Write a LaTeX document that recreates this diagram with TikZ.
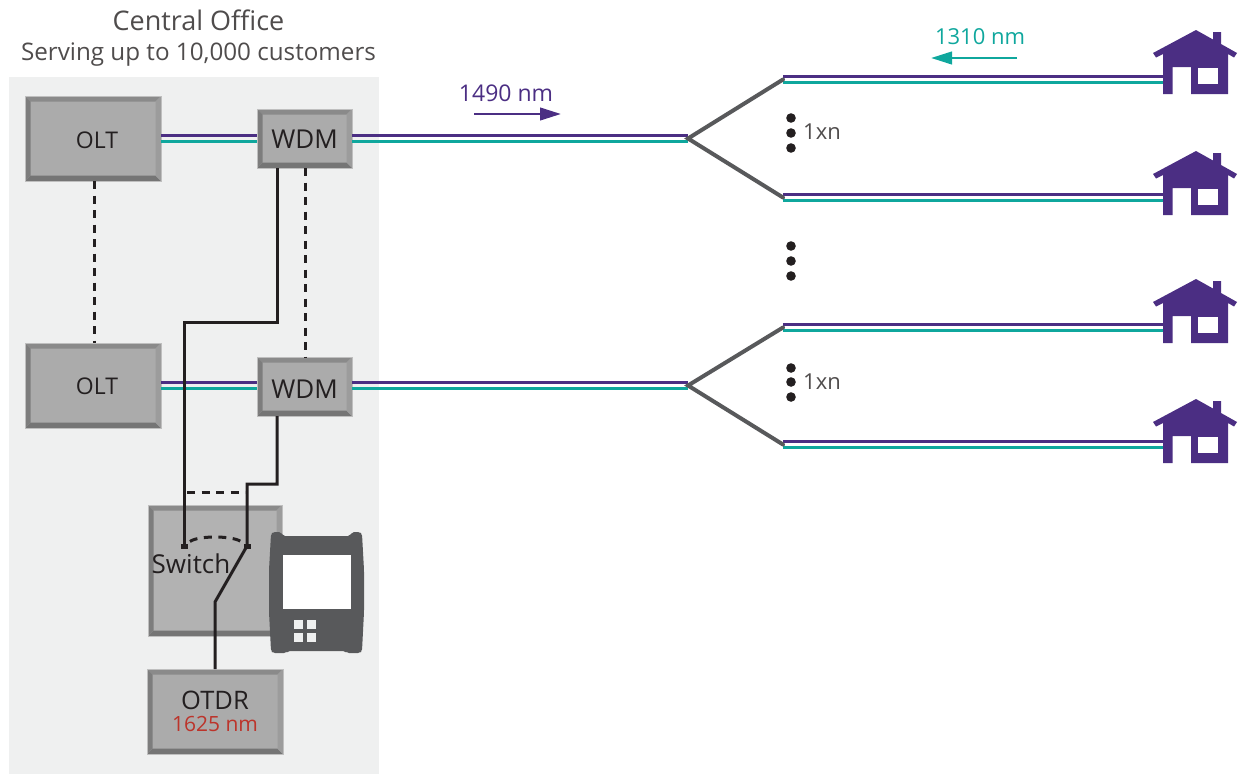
\documentclass[tikz,border=0pt]{standalone}
\usepackage{fontspec}
\usetikzlibrary{arrows.meta}
\setmainfont{Open Sans}
\definecolor{officebg}{HTML}{EFF0F0}
\definecolor{fiberpurple}{HTML}{4B2E83}
\definecolor{fiberteal}{HTML}{0FA79D}
\definecolor{splitgray}{HTML}{58595B}
\definecolor{textdark}{HTML}{231F20}
\definecolor{nmred}{HTML}{BC342B}
\tikzset{
  bevelbox/.style={fill=#1,draw=black!25,line width=.3pt,outer sep=0pt,inner sep=0pt,text=textdark,font=\fontsize{23}{26}\selectfont,align=center,
    path picture={
      \coordinate (nw) at (path picture bounding box.north west);
      \coordinate (ne) at (path picture bounding box.north east);
      \coordinate (sw) at (path picture bounding box.south west);
      \coordinate (se) at (path picture bounding box.south east);
      \fill[black!46] (nw)--(ne)--([shift={(-5.5pt,-5.5pt)}]ne)--([shift={(5.5pt,-5.5pt)}]nw)--cycle;
      \fill[black!54] (sw)--(se)--([shift={(-5.5pt,5.5pt)}]se)--([shift={(5.5pt,5.5pt)}]sw)--cycle;
      \fill[black!51] (nw)--(sw)--([shift={(5.5pt,5.5pt)}]sw)--([shift={(5.5pt,-5.5pt)}]nw)--cycle;
      \fill[black!39] (ne)--(se)--([shift={(-5.5pt,5.5pt)}]se)--([shift={(-5.5pt,-5.5pt)}]ne)--cycle;
    }},
  oltbox/.style={bevelbox=black!33,minimum width=136pt,minimum height=85pt,text depth=0pt},
  wdmbox/.style={bevelbox=black!33,minimum width=95pt,minimum height=59pt,text depth=0pt,font=\fontsize{26}{28}\selectfont},
  purplefiber/.style={fiberpurple,line width=3pt},
  tealfiber/.style={fiberteal,line width=3pt},
  splitline/.style={splitgray,line width=4pt,line cap=round},
  blackline/.style={textdark,line width=3pt},
  dashline/.style={textdark,line width=3pt,dash pattern=on 8pt off 6.5pt},
  smalllabel/.style={font=\fontsize{23}{25}\selectfont},
  pics/house/.style={code={
    \fill[fiberpurple] (1196,30)--(1213,39.5)--(1213,32)--(1221,32)--(1221,44)--(1237,53)--(1234,57.5)--(1228,54)--(1228,94)
      --(1191,94)--(1191,67)--(1172.5,67)--(1172.5,94)--(1163,94)--(1163,54)--(1156,57.5)--(1153,53)--cycle;
    \fill[white] (1198,67.5) rectangle (1218,84);
  }}
}
\begin{document}
\begin{tikzpicture}[x=1pt,y=-1pt]
\useasboundingbox (0,0) rectangle (1239,774);
\fill[officebg] (9,77) rectangle (379,774);
\node[text=textdark!80,font=\fontsize{27}{31}\selectfont,align=center] (title) at (198.5,38) {Central Office\\[-1pt]\fontsize{24.2}{31}\selectfont Serving up to 10,000 customers};

% boxes
\node[oltbox,text height=19.4pt] (olta) at (93,138.5) {\hspace*{8pt}OLT};
\node[oltbox,text height=18.4pt] (oltb) at (93,385.5) {\hspace*{8pt}OLT};
\node[wdmbox,text height=20.6pt] (wdma) at (304.5,138.5) {WDM};
\node[wdmbox,text height=24.6pt] (wdmb) at (304.5,386.5) {WDM};
\node[bevelbox=black!30,minimum width=134pt,minimum height=131pt] (switch) at (215,570.5) {};
\node[bevelbox=black!33,minimum width=136pt,minimum height=85pt,font=\fontsize{25.5}{27}\selectfont] (otdr) at (215,711.5) {\raisebox{2pt}{OTDR}\\[-7pt]\textcolor{nmred}{\fontsize{21}{23}\selectfont 1625 nm}};

% splitters
\coordinate (splita) at (688,138.5);
\coordinate (splitb) at (688,385.5);
\coordinate (taila) at (783,79.5);
\coordinate (tailb) at (783,197.5);
\coordinate (tailc) at (783,327.5);
\coordinate (taild) at (783,444.5);
\foreach \v in {0,121,249,369} \pic at (0,\v) {house};
\coordinate (homea) at (1163,79.5);
\coordinate (homeb) at (1163,197.5);
\coordinate (homec) at (1163,327.5);
\coordinate (homed) at (1163,444.5);

% fibers
\foreach \a/\b in {olta.east/wdma.west,oltb.east/wdmb.west,wdma.east/splita,splitb/wdmb.east,taila/homea,tailb/homeb,tailc/homec,taild/homed} {
 \draw[purplefiber] ([yshift=3.5pt]\a)--([yshift=3.5pt]\a-|\b);
 \draw[tealfiber] ([yshift=-2.5pt]\a)--([yshift=-2.5pt]\a-|\b);
}
\draw[splitline] (taila)--(splita)--(tailb);
\draw[splitline] (tailc)--(splitb)--(taild);
\foreach \y in {118,133,148,246,261,276,368,382,397} \fill[textdark] (791,\y) circle (4.8pt);
\node[smalllabel,text=textdark!80,font=\fontsize{22}{24}\selectfont] (splitlabela) at (822,132) {1xn};
\node[smalllabel,text=textdark!80,font=\fontsize{22}{24}\selectfont] (splitlabelb) at (822,382) {1xn};

% wavelengths
\node[smalllabel,text=fiberpurple] (down) at (506,93) {1490 nm};
\node[smalllabel,text=fiberteal,font=\fontsize{22}{24}\selectfont] (up) at (980,37) {1310 nm};
\draw[fiberpurple,line width=2.6pt,-{Triangle[length=21pt,width=12.5pt]}] (474,114)--(561,114);
\draw[fiberteal,line width=2.6pt,-{Triangle[length=21pt,width=12.5pt]}] (1017,58)--(931,58);

% dashed links
\draw[dashline] (94,181)--(94,343);
\draw[dashline] (305,168)--(305,357);
\draw[dashline] (187,492)--(245,492);
\draw[dashline] (190,541.5) .. controls (198,535.5) and (232,535.5) .. (241,541.5);

% switch
\coordinate (porta) at (184,546);
\coordinate (portb) at (247,546);
\draw[blackline] (277,168)--(277,322)--(184,322)--(porta);
\draw[blackline] (277,416)--(277,484)--(247,484)--(portb)--(215,602)--(otdr.north);
\fill[textdark] (180.5,543.5) rectangle (187.5,548.5);
\fill[textdark] (243.5,543.5) rectangle (250.5,548.5);
\node[text=textdark,font=\fontsize{26}{28}\selectfont] (switchlabel) at (191,564) {Switch};

% meter
\fill[splitgray,rounded corners=2pt] (271,534)--(273,532)--(281,532)--(283,536)--(350,536)--(352,532)--(360,532)--(362,534)
  --(364,570)--(364,612)--(362,651)--(360,653)--(347,653)--(345,651)--(288,651)--(286,653)--(273,653)--(271,651)--(269,612)--(269,570)--cycle;
\fill[white] (283,555) rectangle (351,609);
\foreach \x in {293.5,306.5} \foreach \y in {620,633} \fill[officebg] (\x,\y) rectangle ++(9,8.5);
\end{tikzpicture}
\end{document}
